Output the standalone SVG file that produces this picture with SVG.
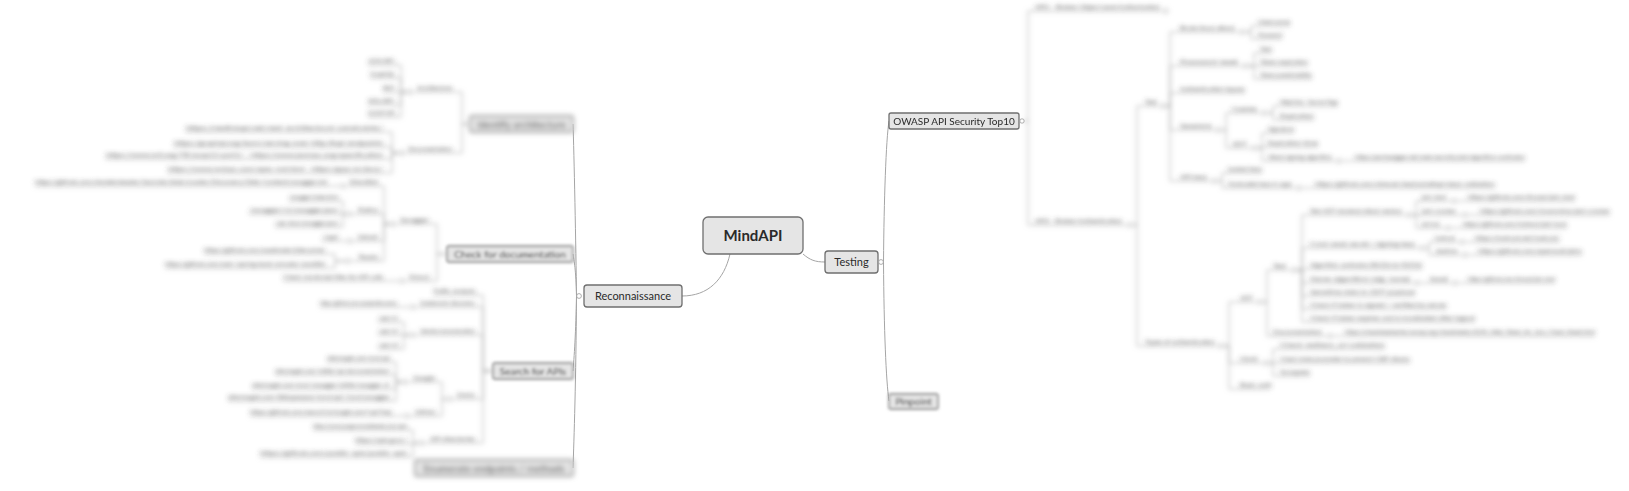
<svg xmlns="http://www.w3.org/2000/svg" width="1629" height="491" viewBox="0 0 1629 491">
<style>
.s{font-family:Lato,"Liberation Sans",sans-serif;font-size:6.5px;fill:#4a4a4a}
.e{text-anchor:end}
.k{fill:#fff;stroke:#999;stroke-width:0.8}
.l{fill:none;stroke:#a8a8a8;stroke-width:0.9}
.m{fill:none;stroke:#a5a5a5;stroke-width:1}
.box{fill:#e5e5e5;stroke:#6f6f6f;stroke-width:1.3}
.bt{font-family:Lato,"Liberation Sans",sans-serif;fill:#2a2a2a;text-anchor:middle}
</style>
<defs>
<filter id="b1" filterUnits="userSpaceOnUse" x="0" y="0" width="1629" height="491"><feGaussianBlur stdDeviation="0.7"/></filter>
<filter id="b2" filterUnits="userSpaceOnUse" x="0" y="0" width="1629" height="491"><feGaussianBlur stdDeviation="1.4"/></filter>
<filter id="b3" filterUnits="userSpaceOnUse" x="0" y="0" width="1629" height="491"><feGaussianBlur stdDeviation="2.5"/></filter>
</defs>
<rect width="1629" height="491" fill="#fff"/>

<g id="connectors">
<g id="main-connectors">
<path class="m" d="M730 254 C724 280 708 296 682 296"/>
<path class="m" d="M803 254 C810 260 815 262 825 262"/>
</g>
<g id="level1-connectors" filter="url(#b1)">
<path class="m" d="M883.5 262 C884 200 886 140 889 121"/>
<path class="m" d="M883.5 262 C884 330 886 380 889 401"/>
<path class="m" d="M576.5 296 C576 250 574 150 573 124"/>
<path class="m" d="M576.5 296 C576 270 574 260 573 254"/>
<path class="m" d="M576.5 296 C576 330 574 360 573 371"/>
<path class="m" d="M576.5 296 C576 380 574 440 573 468"/>
</g>
<g id="deep-connectors" filter="url(#b3)">
<path class="l" d="M1024.5 121 H1028 V11 H1163.8"/>
<path class="l" d="M1024.5 121 H1028 V225 H1127.8"/>
<path class="l" d="M1132.2 225 H1137 V106 H1160.8"/>
<path class="l" d="M1132.2 225 H1137 V346 H1218.8"/>
<path class="l" d="M1165.2 106 H1170 V32 H1239.8"/>
<path class="l" d="M1165.2 106 H1170 V66 H1242.8"/>
<path class="l" d="M1165.2 106 H1170 V93 H1245"/>
<path class="l" d="M1165.2 106 H1170 V130 H1215.8"/>
<path class="l" d="M1165.2 106 H1170 V181 H1211.8"/>
<path class="l" d="M1244.2 32 H1251 V26 H1290"/>
<path class="l" d="M1244.2 32 H1251 V39 H1282"/>
<path class="l" d="M1247.2 66 H1254 V53 H1272"/>
<path class="l" d="M1247.2 66 H1308"/>
<path class="l" d="M1247.2 66 H1254 V79 H1312"/>
<path class="l" d="M1220.2 130 H1226 V113 H1261.8"/>
<path class="l" d="M1220.2 130 H1226 V148 H1251.8"/>
<path class="l" d="M1266.2 113 H1273 V106 H1338"/>
<path class="l" d="M1266.2 113 H1273 V120 H1314"/>
<path class="l" d="M1256.2 148 H1262 V133 H1294"/>
<path class="l" d="M1256.2 148 H1262 V147 H1318"/>
<path class="l" d="M1256.2 148 H1262 V161 H1336.8"/>
<path class="l" d="M1341.2 161 H1525"/>
<path class="l" d="M1216.2 181 H1222 V173 H1262"/>
<path class="l" d="M1216.2 181 H1222 V188 H1296.8"/>
<path class="l" d="M1301.2 188 H1495"/>
<path class="l" d="M1223.2 346 H1229 V302 H1257.8"/>
<path class="l" d="M1223.2 346 H1229 V363 H1263.8"/>
<path class="l" d="M1223.2 346 H1229 V389 H1270"/>
<path class="l" d="M1262.2 302 H1267 V270 H1291.8"/>
<path class="l" d="M1262.2 302 H1267 V336 H1327.8"/>
<path class="l" d="M1296.2 270 H1302 V215 H1406.8"/>
<path class="l" d="M1296.2 270 H1302 V248 H1419.8"/>
<path class="l" d="M1296.2 270 H1302 V269 H1422"/>
<path class="l" d="M1296.2 270 H1302 V283 H1414.8"/>
<path class="l" d="M1296.2 270 H1302 V296 H1415"/>
<path class="l" d="M1296.2 270 H1302 V309 H1447"/>
<path class="l" d="M1296.2 270 H1302 V322 H1475"/>
<path class="l" d="M1411.2 215 H1416 V201 H1451.8"/>
<path class="l" d="M1411.2 215 H1462.8"/>
<path class="l" d="M1411.2 215 H1416 V228 H1445.8"/>
<path class="l" d="M1456.2 201 H1575"/>
<path class="l" d="M1467.2 215 H1610"/>
<path class="l" d="M1450.2 228 H1567"/>
<path class="l" d="M1424.2 248 H1429 V242 H1459.8"/>
<path class="l" d="M1424.2 248 H1429 V255 H1462.8"/>
<path class="l" d="M1464.2 242 H1560"/>
<path class="l" d="M1467.2 255 H1582"/>
<path class="l" d="M1419.2 283 H1452.8"/>
<path class="l" d="M1457.2 283 H1555"/>
<path class="l" d="M1332.2 336 H1595"/>
<path class="l" d="M1268.2 363 H1273 V349 H1385"/>
<path class="l" d="M1268.2 363 H1410"/>
<path class="l" d="M1268.2 363 H1273 V376 H1310"/>
<path class="l" d="M470 124 H462 V92 H412.2"/>
<path class="l" d="M470 124 H462 V153 H404.2"/>
<path class="l" d="M407.8 92 H401 V65 H368"/>
<path class="l" d="M407.8 92 H401 V78 H370"/>
<path class="l" d="M407.8 92 H383"/>
<path class="l" d="M407.8 92 H401 V105 H368"/>
<path class="l" d="M407.8 92 H401 V117 H368"/>
<path class="l" d="M399.8 153 H392 V132 H185"/>
<path class="l" d="M399.8 153 H392 V147 H173"/>
<path class="l" d="M399.8 153 H392 V159 H105"/>
<path class="l" d="M399.8 153 H392 V173 H167"/>
<path class="l" d="M447 254 H437 V224 H395.2"/>
<path class="l" d="M447 254 H437 V281 H404.2"/>
<path class="l" d="M390.8 224 H384 V186 H345.2"/>
<path class="l" d="M390.8 224 H384 V214 H352.2"/>
<path class="l" d="M390.8 224 H384 V241 H352.2"/>
<path class="l" d="M390.8 224 H384 V261 H350.2"/>
<path class="l" d="M340.8 186 H35"/>
<path class="l" d="M347.8 214 H343 V201 H289"/>
<path class="l" d="M347.8 214 H249"/>
<path class="l" d="M347.8 214 H343 V227 H275"/>
<path class="l" d="M347.8 241 H322"/>
<path class="l" d="M345.8 261 H335 V254 H204"/>
<path class="l" d="M345.8 261 H335 V268 H165"/>
<path class="l" d="M399.8 281 H283"/>
<path class="l" d="M493 371 H483 V295 H433"/>
<path class="l" d="M493 371 H483 V307 H415.2"/>
<path class="l" d="M493 371 H483 V335 H415.2"/>
<path class="l" d="M493 371 H483 V399 H452.2"/>
<path class="l" d="M493 371 H483 V443 H424.2"/>
<path class="l" d="M410.8 307 H320"/>
<path class="l" d="M410.8 335 H404 V322 H378"/>
<path class="l" d="M410.8 335 H378"/>
<path class="l" d="M410.8 335 H404 V349 H378"/>
<path class="l" d="M447.8 399 H442 V382 H407.2"/>
<path class="l" d="M447.8 399 H442 V416 H409.2"/>
<path class="l" d="M402.8 382 H396 V362 H327"/>
<path class="l" d="M402.8 382 H396 V375 H275"/>
<path class="l" d="M402.8 382 H396 V389 H252"/>
<path class="l" d="M402.8 382 H396 V401 H228"/>
<path class="l" d="M404.8 416 H250"/>
<path class="l" d="M419.8 443 H413 V430 H313"/>
<path class="l" d="M419.8 443 H413 V444 H355"/>
<path class="l" d="M419.8 443 H413 V457 H260"/>
</g>
</g>

<g id="n-root"><rect class="box" x="703" y="217" width="100" height="37" rx="5" stroke-width="1.6"/><text class="bt" x="753" y="241" font-size="15" font-weight="bold" fill="#111">MindAPI</text></g>
<g id="n-testing"><rect class="box" x="825" y="251" width="53" height="22" rx="3"/><text class="bt" x="851.5" y="266" font-size="11">Testing</text><circle class="k" cx="881" cy="262" r="2.4"/></g>
<g id="n-recon"><rect class="box" x="584" y="285" width="98" height="22" rx="3"/><text class="bt" x="633" y="300" font-size="11">Reconnaissance</text><circle class="k" cx="579" cy="296" r="2.4"/></g>

<g filter="url(#b1)">
<g id="n-owasp"><rect class="box" x="889" y="113" width="130" height="16" rx="2"/><text class="bt" x="954" y="124.5" font-size="10" fill="#444">OWASP API Security Top10</text><circle class="k" cx="1022" cy="121" r="2.2"/></g>
</g>
<g filter="url(#b2)">
<g id="n-pinpoint"><rect class="box" x="889" y="394" width="49" height="15" rx="2" stroke="#888"/><text class="bt" x="913.5" y="405" font-size="10" fill="#555">Pinpoint</text></g>
<g id="n-checkdoc"><rect class="box" x="447" y="246" width="126" height="16" rx="2"/><text class="bt" x="510" y="257.5" font-size="10" fill="#555">Check for documentation</text></g>
<g id="n-search"><rect class="box" x="493" y="363" width="80" height="16" rx="2"/><text class="bt" x="533" y="374.5" font-size="10" fill="#555">Search for APIs</text></g>
</g>
<g filter="url(#b3)">
<g id="n-identify"><rect class="box" x="470" y="116" width="103" height="16" rx="2" stroke="#aaa"/><text class="bt" x="521.5" y="127.5" font-size="10" fill="#555">Identify architecture</text></g>
<g id="n-enum"><rect class="box" x="415" y="460" width="158" height="16" rx="2" stroke="#aaa"/><text class="bt" x="494" y="471.5" font-size="10" fill="#555">Enumerate endpoints / methods</text></g>

<g id="n-api1"><text class="s" x="1035" y="9.2" textLength="125" lengthAdjust="spacingAndGlyphs">API1 - Broken Object Level Authorization</text><circle class="k" cx="1166" cy="11" r="2.2"/></g>
<g id="n-api2"><text class="s" x="1035" y="223.2" textLength="87" lengthAdjust="spacingAndGlyphs">API2 - Broken Authentication</text><circle class="k" cx="1130" cy="225" r="2.2"/></g>
<g id="n-test1"><text class="s" x="1145" y="104.2" textLength="12" lengthAdjust="spacingAndGlyphs">Test</text><circle class="k" cx="1163" cy="106" r="2.2"/></g>
<g id="n-types"><text class="s" x="1145" y="344.2" textLength="70" lengthAdjust="spacingAndGlyphs">Types of authentication</text><circle class="k" cx="1221" cy="346" r="2.2"/></g>
<g id="n-c1"><text class="s" x="1180" y="30.2" textLength="55" lengthAdjust="spacingAndGlyphs">Brute force attack</text><circle class="k" cx="1242" cy="32" r="2.2"/></g>
<g id="n-c1a"><text class="s" x="1258" y="24.2" textLength="32" lengthAdjust="spacingAndGlyphs">Username</text></g>
<g id="n-c1b"><text class="s" x="1258" y="37.2" textLength="24" lengthAdjust="spacingAndGlyphs">Password</text></g>
<g id="n-c2"><text class="s" x="1180" y="64.2" textLength="58" lengthAdjust="spacingAndGlyphs">Password reset</text><circle class="k" cx="1245" cy="66" r="2.2"/></g>
<g id="n-c2a"><text class="s" x="1260" y="51.2" textLength="12" lengthAdjust="spacingAndGlyphs">Token</text></g>
<g id="n-c2b"><text class="s" x="1260" y="64.2" textLength="48" lengthAdjust="spacingAndGlyphs">Token expiration</text></g>
<g id="n-c2c"><text class="s" x="1260" y="77.2" textLength="52" lengthAdjust="spacingAndGlyphs">Token predictability</text></g>
<g id="n-c3"><text class="s" x="1180" y="91.2" textLength="65" lengthAdjust="spacingAndGlyphs">Authentication bypass</text></g>
<g id="n-c4"><text class="s" x="1180" y="128.2" textLength="32" lengthAdjust="spacingAndGlyphs">Sessions</text><circle class="k" cx="1218" cy="130" r="2.2"/></g>
<g id="n-d1"><text class="s" x="1232" y="111.2" textLength="25" lengthAdjust="spacingAndGlyphs">Cookies</text><circle class="k" cx="1264" cy="113" r="2.2"/></g>
<g id="n-d1a"><text class="s" x="1280" y="104.2" textLength="58" lengthAdjust="spacingAndGlyphs">HttpOnly / Secure flags</text></g>
<g id="n-d1b"><text class="s" x="1280" y="118.2" textLength="34" lengthAdjust="spacingAndGlyphs">Expiration</text></g>
<g id="n-d2"><text class="s" x="1232" y="146.2" textLength="15" lengthAdjust="spacingAndGlyphs">JWT</text><circle class="k" cx="1254" cy="148" r="2.2"/></g>
<g id="n-d2a"><text class="s" x="1268" y="131.2" textLength="26" lengthAdjust="spacingAndGlyphs">Signature</text></g>
<g id="n-d2b"><text class="s" x="1268" y="145.2" textLength="50" lengthAdjust="spacingAndGlyphs">Expiration time</text></g>
<g id="n-d2c"><text class="s" x="1268" y="159.2" textLength="64" lengthAdjust="spacingAndGlyphs">Weak signing algorithm</text><circle class="k" cx="1339" cy="161" r="2.2"/></g>
<g id="n-d2c1"><text class="s" x="1355" y="159.2" textLength="170" lengthAdjust="spacingAndGlyphs">https://portswigger.net/web-security/jwt/algorithm-confusion</text></g>
<g id="n-c5"><text class="s" x="1180" y="179.2" textLength="27" lengthAdjust="spacingAndGlyphs">API keys</text><circle class="k" cx="1214" cy="181" r="2.2"/></g>
<g id="n-c5a"><text class="s" x="1228" y="171.2" textLength="34" lengthAdjust="spacingAndGlyphs">Leaked keys</text></g>
<g id="n-c5b"><text class="s" x="1228" y="186.2" textLength="64" lengthAdjust="spacingAndGlyphs">Hardcoded keys in apps</text><circle class="k" cx="1299" cy="188" r="2.2"/></g>
<g id="n-c5b1"><text class="s" x="1315" y="186.2" textLength="180" lengthAdjust="spacingAndGlyphs">https://github.com/streaak/keyhacks#api-keys-validation</text></g>
<g id="n-jwt"><text class="s" x="1240" y="300.2" textLength="13" lengthAdjust="spacingAndGlyphs">JWT</text><circle class="k" cx="1260" cy="302" r="2.2"/></g>
<g id="n-jtest"><text class="s" x="1273" y="268.2" textLength="13" lengthAdjust="spacingAndGlyphs">Test</text><circle class="k" cx="1294" cy="270" r="2.2"/></g>
<g id="n-e1"><text class="s" x="1310" y="213.2" textLength="92" lengthAdjust="spacingAndGlyphs">Test JWT standard attack vectors</text><circle class="k" cx="1409" cy="215" r="2.2"/></g>
<g id="n-f1"><text class="s" x="1422" y="199.2" textLength="24" lengthAdjust="spacingAndGlyphs">jwt_tool</text><circle class="k" cx="1454" cy="201" r="2.2"/></g>
<g id="n-f1l"><text class="s" x="1468" y="199.2" textLength="107" lengthAdjust="spacingAndGlyphs">https://github.com/ticarpi/jwt_tool</text></g>
<g id="n-f2"><text class="s" x="1422" y="213.2" textLength="34" lengthAdjust="spacingAndGlyphs">jwt-cracker</text><circle class="k" cx="1465" cy="215" r="2.2"/></g>
<g id="n-f2l"><text class="s" x="1480" y="213.2" textLength="130" lengthAdjust="spacingAndGlyphs">https://github.com/lmammino/jwt-cracker</text></g>
<g id="n-f3"><text class="s" x="1422" y="226.2" textLength="18" lengthAdjust="spacingAndGlyphs">jwt-hack</text><circle class="k" cx="1448" cy="228" r="2.2"/></g>
<g id="n-f3l"><text class="s" x="1463" y="226.2" textLength="104" lengthAdjust="spacingAndGlyphs">https://github.com/hahwul/jwt-hack</text></g>
<g id="n-e2"><text class="s" x="1310" y="246.2" textLength="105" lengthAdjust="spacingAndGlyphs">Crack weak secret / signing keys</text><circle class="k" cx="1422" cy="248" r="2.2"/></g>
<g id="n-e2a"><text class="s" x="1435" y="240.2" textLength="20" lengthAdjust="spacingAndGlyphs">hashcat</text><circle class="k" cx="1462" cy="242" r="2.2"/></g>
<g id="n-e2al"><text class="s" x="1475" y="240.2" textLength="85" lengthAdjust="spacingAndGlyphs">https://hashcat.net/hashcat/</text></g>
<g id="n-e2b"><text class="s" x="1435" y="253.2" textLength="23" lengthAdjust="spacingAndGlyphs">John</text><circle class="k" cx="1465" cy="255" r="2.2"/></g>
<g id="n-e2bl"><text class="s" x="1478" y="253.2" textLength="104" lengthAdjust="spacingAndGlyphs">https://github.com/openwall/john</text></g>
<g id="n-e3"><text class="s" x="1310" y="267.2" textLength="112" lengthAdjust="spacingAndGlyphs">Algorithm confusion (RS256 to HS256)</text></g>
<g id="n-e4"><text class="s" x="1310" y="281.2" textLength="100" lengthAdjust="spacingAndGlyphs">None algorithm (alg: none)</text><circle class="k" cx="1417" cy="283" r="2.2"/></g>
<g id="n-e4a"><text class="s" x="1430" y="281.2" textLength="18" lengthAdjust="spacingAndGlyphs">tool</text><circle class="k" cx="1455" cy="283" r="2.2"/></g>
<g id="n-e4al"><text class="s" x="1468" y="281.2" textLength="87" lengthAdjust="spacingAndGlyphs">https://github.com/ticarpi/jwt_tool</text></g>
<g id="n-e5"><text class="s" x="1310" y="294.2" textLength="105" lengthAdjust="spacingAndGlyphs">Sensitive data in JWT payload</text></g>
<g id="n-e6"><text class="s" x="1310" y="307.2" textLength="137" lengthAdjust="spacingAndGlyphs">Check if token is signed / verified by server</text></g>
<g id="n-e7"><text class="s" x="1310" y="320.2" textLength="165" lengthAdjust="spacingAndGlyphs">Check if token expires and is invalidated after logout</text></g>
<g id="n-jdoc"><text class="s" x="1273" y="334.2" textLength="49" lengthAdjust="spacingAndGlyphs">Documentation</text><circle class="k" cx="1330" cy="336" r="2.2"/></g>
<g id="n-jdocl"><text class="s" x="1345" y="334.2" textLength="250" lengthAdjust="spacingAndGlyphs">https://cheatsheetseries.owasp.org/cheatsheets/JSON_Web_Token_for_Java_Cheat_Sheet.html</text></g>
<g id="n-oauth"><text class="s" x="1240" y="361.2" textLength="18" lengthAdjust="spacingAndGlyphs">OAuth</text><circle class="k" cx="1266" cy="363" r="2.2"/></g>
<g id="n-oa1"><text class="s" x="1280" y="347.2" textLength="105" lengthAdjust="spacingAndGlyphs">Check redirect_uri validation</text></g>
<g id="n-oa2"><text class="s" x="1280" y="361.2" textLength="130" lengthAdjust="spacingAndGlyphs">Check state parameter to prevent CSRF attacks</text></g>
<g id="n-oa3"><text class="s" x="1280" y="374.2" textLength="30" lengthAdjust="spacingAndGlyphs">Scopes</text></g>
<g id="n-basic"><text class="s" x="1240" y="387.2" textLength="32" lengthAdjust="spacingAndGlyphs">Basic auth</text></g>

<g id="n-arch"><text class="s e" x="452" y="90.2" textLength="35" lengthAdjust="spacingAndGlyphs">Architecture</text><circle class="k" cx="410" cy="92" r="2.2"/></g>
<g id="n-a1"><text class="s e" x="395" y="63.2" textLength="27" lengthAdjust="spacingAndGlyphs">JSON-RPC</text></g>
<g id="n-a2"><text class="s e" x="395" y="76.2" textLength="25" lengthAdjust="spacingAndGlyphs">GraphQL</text></g>
<g id="n-a3"><text class="s e" x="395" y="90.2" textLength="12" lengthAdjust="spacingAndGlyphs">REST</text></g>
<g id="n-a4"><text class="s e" x="395" y="103.2" textLength="27" lengthAdjust="spacingAndGlyphs">XML-RPC</text></g>
<g id="n-a5"><text class="s e" x="395" y="115.2" textLength="27" lengthAdjust="spacingAndGlyphs">SOAP API</text></g>
<g id="n-adoc"><text class="s e" x="452" y="151.2" textLength="44" lengthAdjust="spacingAndGlyphs">Documentation</text><circle class="k" cx="402" cy="153" r="2.2"/></g>
<g id="n-ad1"><text class="s e" x="383" y="130.2" textLength="197" lengthAdjust="spacingAndGlyphs">https://restfulapi.net/rest-architectural-constraints/</text></g>
<g id="n-ad2"><text class="s e" x="383" y="145.2" textLength="209" lengthAdjust="spacingAndGlyphs">https://graphql.org/learn/serving-over-http/#api-endpoints</text></g>
<g id="n-ad3"><text class="s e" x="383" y="157.2" textLength="277" lengthAdjust="spacingAndGlyphs">https://www.w3.org/TR/soap12-part1/ - https://www.jsonrpc.org/specification</text></g>
<g id="n-ad4"><text class="s e" x="383" y="171.2" textLength="215" lengthAdjust="spacingAndGlyphs">https://www.xmlrpc.com/spec-md.html - https://grpc.io/docs/</text></g>
<g id="n-swag"><text class="s e" x="429" y="222.2" textLength="29" lengthAdjust="spacingAndGlyphs">Swagger</text><circle class="k" cx="393" cy="224" r="2.2"/></g>
<g id="n-g1"><text class="s e" x="378" y="184.2" textLength="29" lengthAdjust="spacingAndGlyphs">Wordlist</text><circle class="k" cx="343" cy="186" r="2.2"/></g>
<g id="n-g1l"><text class="s e" x="327" y="184.2" textLength="292" lengthAdjust="spacingAndGlyphs">https://github.com/danielmiessler/SecLists/blob/master/Discovery/Web-Content/swagger.txt</text></g>
<g id="n-g2"><text class="s e" x="378" y="212.2" textLength="20" lengthAdjust="spacingAndGlyphs">Paths</text><circle class="k" cx="350" cy="214" r="2.2"/></g>
<g id="n-g2a"><text class="s e" x="338" y="199.2" textLength="49" lengthAdjust="spacingAndGlyphs">/swagger/index.html</text></g>
<g id="n-g2b"><text class="s e" x="338" y="212.2" textLength="89" lengthAdjust="spacingAndGlyphs">/swagger/v1/swagger.json</text></g>
<g id="n-g2c"><text class="s e" x="338" y="225.2" textLength="63" lengthAdjust="spacingAndGlyphs">/api-docs/swagger.json</text></g>
<g id="n-g3"><text class="s e" x="378" y="239.2" textLength="20" lengthAdjust="spacingAndGlyphs">Default</text><circle class="k" cx="350" cy="241" r="2.2"/></g>
<g id="n-g3a"><text class="s e" x="338" y="239.2" textLength="16" lengthAdjust="spacingAndGlyphs">/api</text></g>
<g id="n-g4"><text class="s e" x="378" y="259.2" textLength="20" lengthAdjust="spacingAndGlyphs">Tools</text><circle class="k" cx="348" cy="261" r="2.2"/></g>
<g id="n-g4a"><text class="s e" x="325" y="252.2" textLength="121" lengthAdjust="spacingAndGlyphs">https://github.com/assetnote/kiterunner</text></g>
<g id="n-g4b"><text class="s e" x="325" y="266.2" textLength="160" lengthAdjust="spacingAndGlyphs">https://github.com/ozzi-/spring-boot-actuator-wordlist</text></g>
<g id="n-man"><text class="s e" x="429" y="279.2" textLength="20" lengthAdjust="spacingAndGlyphs">Manual</text><circle class="k" cx="402" cy="281" r="2.2"/></g>
<g id="n-mana"><text class="s e" x="383" y="279.2" textLength="100" lengthAdjust="spacingAndGlyphs">Check JavaScript files for API calls</text></g>
<g id="n-s1"><text class="s e" x="475" y="293.2" textLength="42" lengthAdjust="spacingAndGlyphs">Traffic analysis</text></g>
<g id="n-s2"><text class="s e" x="475" y="305.2" textLength="55" lengthAdjust="spacingAndGlyphs">Subdomain discovery</text><circle class="k" cx="413" cy="307" r="2.2"/></g>
<g id="n-s2a"><text class="s e" x="397" y="305.2" textLength="77" lengthAdjust="spacingAndGlyphs">https://github.com/projectdiscovery</text></g>
<g id="n-s3"><text class="s e" x="475" y="333.2" textLength="55" lengthAdjust="spacingAndGlyphs">Version enumeration</text><circle class="k" cx="413" cy="335" r="2.2"/></g>
<g id="n-s3a"><text class="s e" x="398" y="320.2" textLength="20" lengthAdjust="spacingAndGlyphs">/api/v1</text></g>
<g id="n-s3b"><text class="s e" x="398" y="333.2" textLength="20" lengthAdjust="spacingAndGlyphs">/api/v2</text></g>
<g id="n-s3c"><text class="s e" x="398" y="347.2" textLength="20" lengthAdjust="spacingAndGlyphs">/api/v3</text></g>
<g id="n-s4"><text class="s e" x="475" y="397.2" textLength="18" lengthAdjust="spacingAndGlyphs">Dorks</text><circle class="k" cx="450" cy="399" r="2.2"/></g>
<g id="n-t1"><text class="s e" x="435" y="380.2" textLength="22" lengthAdjust="spacingAndGlyphs">Google</text><circle class="k" cx="405" cy="382" r="2.2"/></g>
<g id="n-t1a"><text class="s e" x="390" y="360.2" textLength="63" lengthAdjust="spacingAndGlyphs">site:target.com inurl:api</text></g>
<g id="n-t1b"><text class="s e" x="390" y="373.2" textLength="115" lengthAdjust="spacingAndGlyphs">site:target.com intitle:'api documentation'</text></g>
<g id="n-t1c"><text class="s e" x="390" y="387.2" textLength="138" lengthAdjust="spacingAndGlyphs">site:target.com inurl:/swagger intitle:'swagger ui'</text></g>
<g id="n-t1d"><text class="s e" x="390" y="399.2" textLength="162" lengthAdjust="spacingAndGlyphs">site:target.com filetype:json inurl:api | inurl:swagger</text></g>
<g id="n-t2"><text class="s e" x="435" y="414.2" textLength="20" lengthAdjust="spacingAndGlyphs">GitHub</text><circle class="k" cx="407" cy="416" r="2.2"/></g>
<g id="n-t2a"><text class="s e" x="392" y="414.2" textLength="142" lengthAdjust="spacingAndGlyphs">https://github.com/search?q=target.com+api+key</text></g>
<g id="n-s5"><text class="s e" x="475" y="441.2" textLength="45" lengthAdjust="spacingAndGlyphs">API directories</text><circle class="k" cx="422" cy="443" r="2.2"/></g>
<g id="n-s5a"><text class="s e" x="407" y="428.2" textLength="94" lengthAdjust="spacingAndGlyphs">https://www.programmableweb.com/apis</text></g>
<g id="n-s5b"><text class="s e" x="407" y="442.2" textLength="52" lengthAdjust="spacingAndGlyphs">https://apis.guru/</text></g>
<g id="n-s5c"><text class="s e" x="407" y="455.2" textLength="147" lengthAdjust="spacingAndGlyphs">https://github.com/public-apis/public-apis</text></g>
</g>
</svg>
